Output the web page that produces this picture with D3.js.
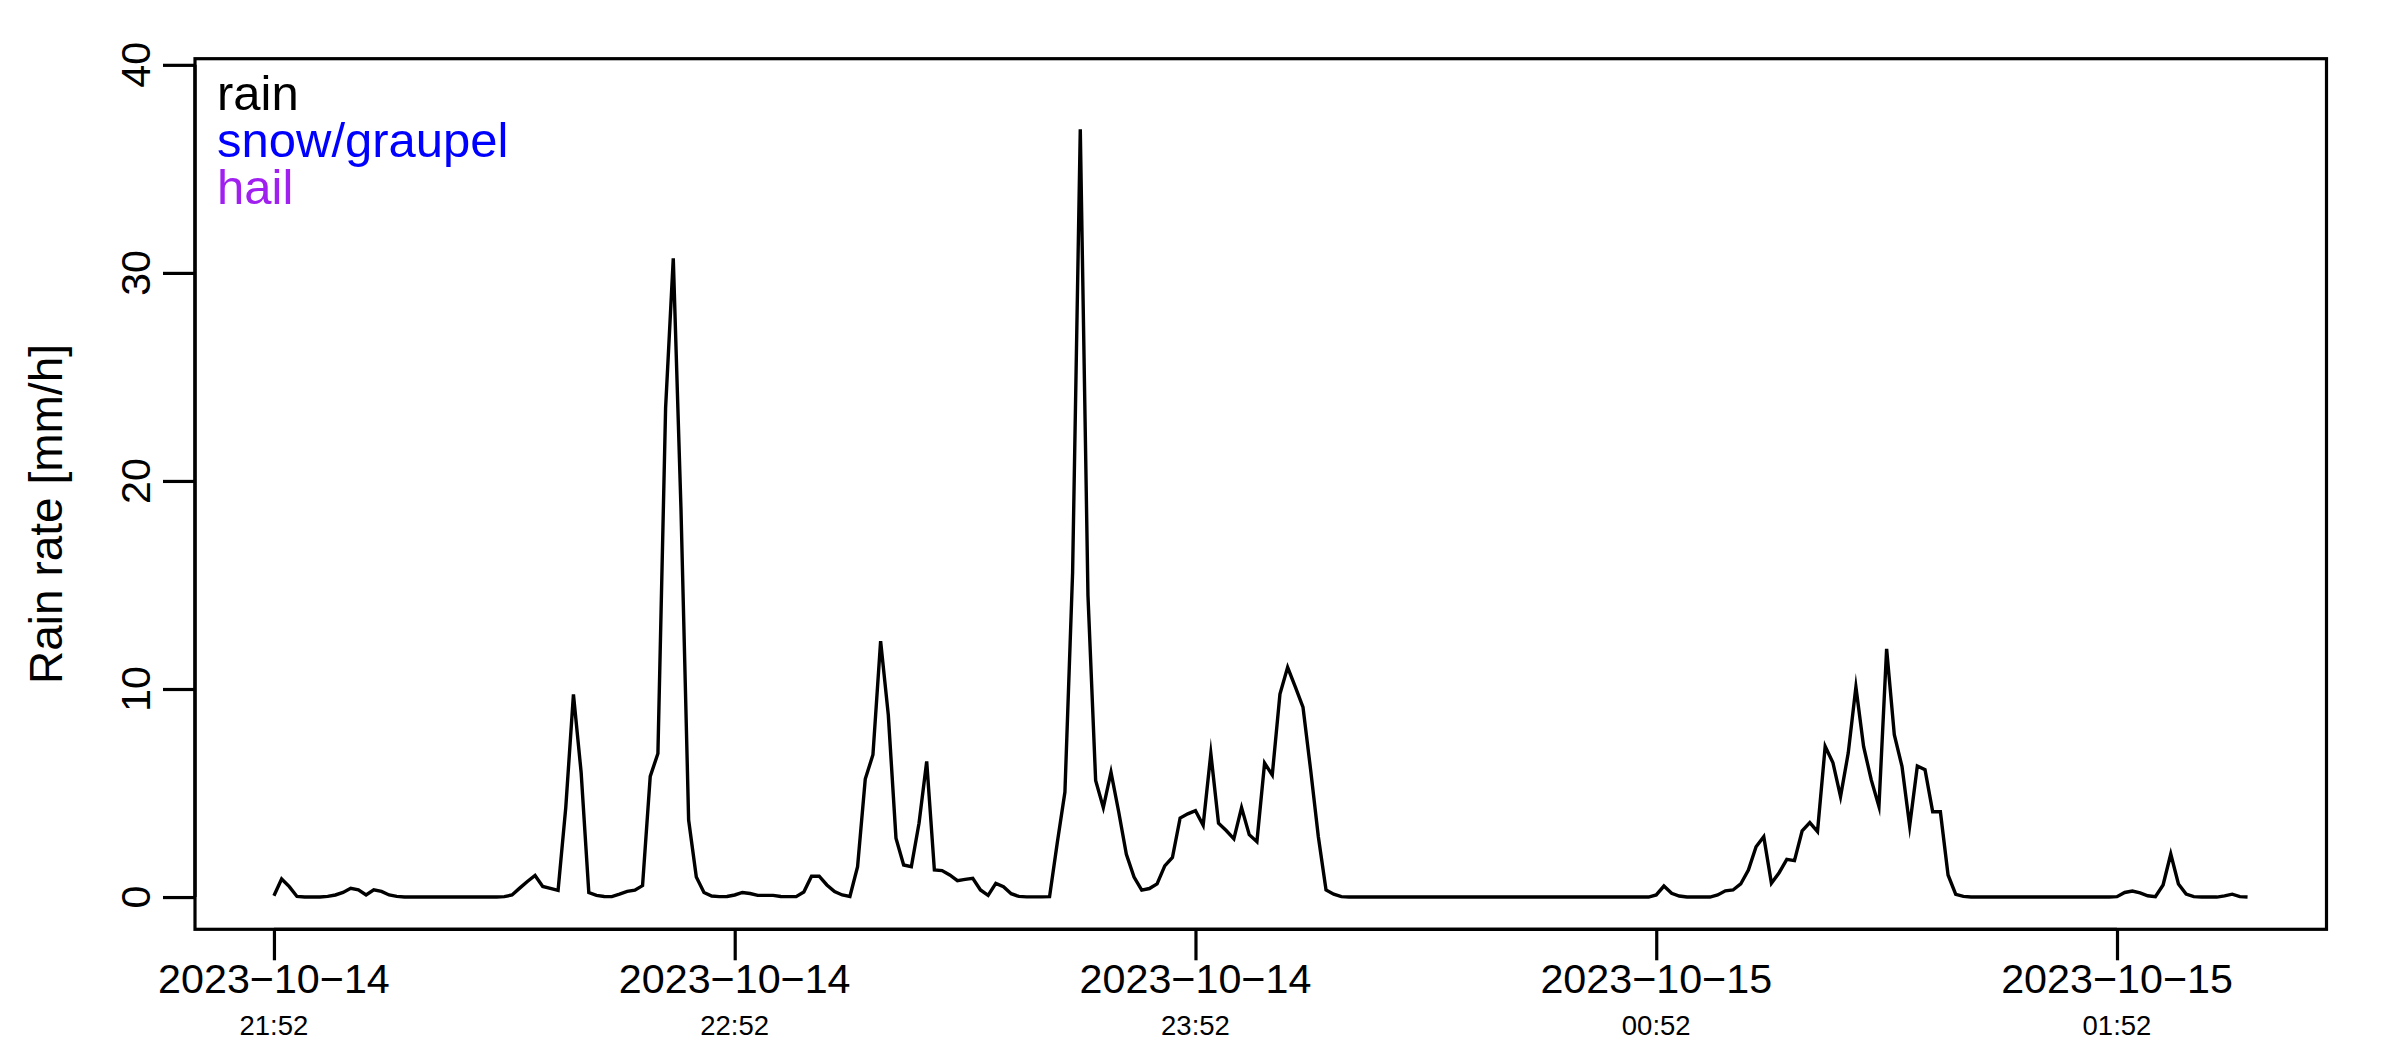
<!DOCTYPE html>
<html><head><meta charset="utf-8">
<script src="https://cdn.jsdelivr.net/npm/d3@7"></script>
<style>html,body{margin:0;padding:0;background:#fff;} svg{display:block;}</style>
</head><body>
<svg id="chart" width="2400" height="1050"></svg>
<script>
// ---- data ----
const startTime = "2023-10-14T21:52:00";
const stepMinutes = 1;
const rainRate = [
  0.06,0.87,0.5,0.03,0,0,0,0.03,0.1,0.22,0.42,0.35,0.1,0.35,0.27,0.1,0.03,
  0,0,0,0,0,0,0,0,0,0,0,0,0,
  0.02,0.1,0.43,0.75,1.04,0.51,0.42,0.32,4.3,9.74,6.0,0.22,0.08,0.03,0.02,0.14,0.27,0.33,0.55,5.8,
  6.9,23.5,30.7,18.7,3.7,0.96,0.22,0.05,0.02,0.03,0.1,0.22,0.17,0.08,
  0.08,0.08,0.03,0.02,0.02,0.24,1.0,1.0,0.58,0.26,0.1,0.03,1.46,5.67,6.84,12.3,8.76,2.83,1.54,1.46,
  3.55,6.52,1.3,1.27,1.06,0.79,0.85,0.9,0.34,0.08,0.66,0.5,0.16,0.03,0.01,0.01,0.01,0.02,2.6,5.05,
  15.6,36.9,14.5,5.6,4.3,6.0,4.1,2.05,0.96,0.33,0.41,0.63,1.5,1.9,3.8,4.0,4.15,3.45,6.9,3.55,
  3.2,2.8,4.3,3.0,2.66,6.44,5.87,9.76,11.04,10.1,9.13,6.1,2.9,0.34,0.14,0.02,
  0,0,0,0,0,0,0,0,0,0,0,0,0,0,0,0,0,0,0,0,0,0,0,0,0,0,0,0,0,0,0,0,0,0,0,0,0,0,0,0,
  0.1,0.53,0.18,0.05,0,0,0,0,0.1,0.3,0.34,0.63,1.3,2.42,2.9,0.66,1.17,1.81,1.75,3.18,
  3.58,3.15,7.24,6.47,4.83,6.92,10.1,7.24,5.63,4.35,11.93,7.8,6.28,3.42,6.3,6.12,4.1,4.1,1.06,0.13,0.03,
  0,0,0,0,0,0,0,0,0,0,0,0,0,0,0,0,0,0,0,
  0.02,0.22,0.29,0.2,0.06,0.02,0.58,2.07,0.63,0.14,0.02,0,0,0,0.06,0.14,0.02,0
];
const yTicks = [0, 10, 20, 30, 40];
const xTickHourOffsets = [0, 1, 2, 3, 4];
const legendLabels = ["rain", "snow/graupel", "hail"];
const legendColors = ["#000000", "#0000ff", "#a020f0"];
const yLabel = "Rain rate [mm/h]";

// ---- layout ----
const W = 2400, H = 1050;
const box = {left: 195, right: 2326.5, top: 58.7, bottom: 929.3};
const FONT = "'Liberation Sans', Arial, Helvetica, sans-serif";

const svg = d3.select("#chart");
svg.append("rect").attr("width", W).attr("height", H).attr("fill", "#fff");

const t0 = new Date(startTime);
const data = rainRate.map((v, i) => ({t: d3.timeMinute.offset(t0, i * stepMinutes), v}));
const tEnd = data[data.length - 1].t;
const span = tEnd - t0;

const x = d3.scaleTime()
  .domain([new Date(+t0 - 0.04 * span), new Date(+tEnd + 0.04 * span)])
  .range([box.left, box.right]);
const yMax = d3.max(rainRate) * 1.05;
const y = d3.scaleLinear()
  .domain([-0.04 * yMax, yMax * 1.04])
  .range([box.bottom, box.top]);

// data line
svg.append("path")
  .datum(data)
  .attr("fill", "none")
  .attr("stroke", "#000")
  .attr("stroke-width", 3.4)
  .attr("stroke-linejoin", "miter")
  .attr("stroke-miterlimit", 10)
  .attr("d", d3.line().x(d => x(d.t)).y(d => y(d.v)));

// box
svg.append("rect")
  .attr("x", box.left).attr("y", box.top)
  .attr("width", box.right - box.left).attr("height", box.bottom - box.top)
  .attr("fill", "none").attr("stroke", "#000").attr("stroke-width", 3.2);

// y axis
const yAxis = d3.axisLeft(y).tickValues(yTicks).tickSize(32).tickFormat("");
const yg = svg.append("g").attr("transform", `translate(${box.left},0)`).call(yAxis);
yg.select(".domain").attr("d", `M0,${y(yTicks[0])}V${y(yTicks[yTicks.length-1])}`).attr("stroke-width", 3.2);
yg.selectAll(".tick line").attr("stroke-width", 3.2);
svg.append("g").selectAll("text").data(yTicks).join("text")
  .attr("transform", d => `translate(150,${y(d)}) rotate(-90)`)
  .attr("text-anchor", "middle")
  .attr("font-family", FONT).attr("font-size", 41.25)
  .text(d => d);

// x axis
const xTicks = xTickHourOffsets.map(h => d3.timeHour.offset(t0, h));
const xAxis = d3.axisBottom(x).tickValues(xTicks).tickSize(31).tickFormat("");
const xg = svg.append("g").attr("transform", `translate(0,${box.bottom})`).call(xAxis);
xg.select(".domain").attr("d", `M${x(xTicks[0])},0H${x(xTicks[xTicks.length-1])}`).attr("stroke-width", 3.2);
xg.selectAll(".tick line").attr("stroke-width", 3.2);
const fmtDate = d3.timeFormat("%Y-%m-%d");
const fmtTime = d3.timeFormat("%H:%M");
const xl = svg.append("g");
xl.selectAll("text.date").data(xTicks).join("text")
  .attr("class", "date")
  .attr("x", d => x(d)).attr("y", 993.3)
  .attr("text-anchor", "middle")
  .attr("font-family", FONT).attr("font-size", 41.25)
  .text(d => fmtDate(d).replace(/-/g, "\u2212"));
xl.selectAll("text.time").data(xTicks).join("text")
  .attr("class", "time")
  .attr("x", d => x(d)).attr("y", 1035.3)
  .attr("text-anchor", "middle")
  .attr("font-family", FONT).attr("font-size", 27.5)
  .text(d => fmtTime(d));

// y label
svg.append("text")
  .attr("transform", `translate(62,514) rotate(-90)`)
  .attr("text-anchor", "middle")
  .attr("font-family", FONT).attr("font-size", 46)
  .text(yLabel);

// legend
svg.append("g").selectAll("text").data(legendLabels).join("text")
  .attr("x", 217)
  .attr("y", (d, i) => 110 + i * 47)
  .attr("fill", (d, i) => legendColors[i])
  .attr("font-family", FONT).attr("font-size", 49)
  .text(d => d);
</script>
</body></html>
